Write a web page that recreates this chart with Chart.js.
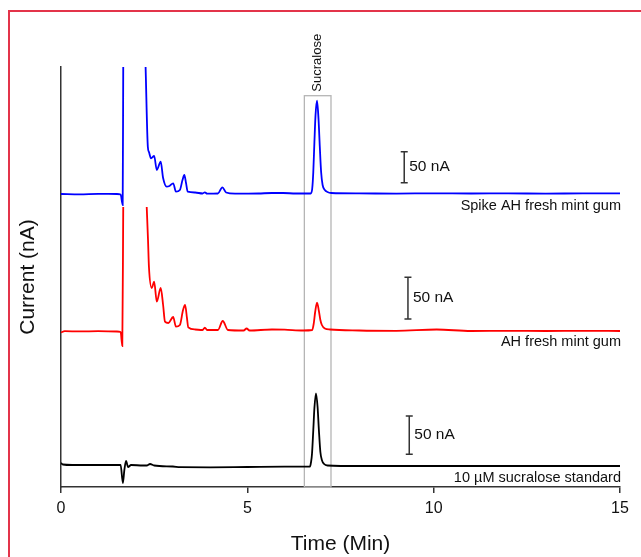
<!DOCTYPE html>
<html>
<head>
<meta charset="utf-8">
<script src="https://cdn.jsdelivr.net/npm/chart.js@4.4.0/dist/chart.umd.min.js"></script>
<style>
  body { margin: 0; background: #fff; }
  #wrap { position: relative; width: 641px; height: 557px; overflow: hidden; }
  #wrap canvas { position: absolute; left: 0; top: 0; }
  #frame { position: absolute; left: 8px; top: 10px; width: 700px; height: 600px;
           border: 2px solid #e3344a; box-sizing: border-box; pointer-events: none; }
</style>
</head>
<body>
<div id="wrap">
  <canvas id="chromChart" width="641" height="557"></canvas>
  <div id="frame"></div>
</div>
<script>
// traces are stacked, so currents below already include each trace's offset
// spiked gum sample (blue)
const spikeTime = [0, 0.5, 1.0, 1.5, 1.6, 1.655, 1.67, 1.9, 2.27, 2.33, 2.36, 2.415, 2.50, 2.57, 2.675, 2.74,
  2.835, 2.91, 3.01, 3.085, 3.19, 3.26, 3.31, 3.355, 3.40, 3.6, 3.8, 3.86, 3.92, 4.21, 4.33, 4.43, 4.67,
  5.3, 5.66, 5.96, 6.3, 6.70, 6.74, 6.77, 6.80, 6.83, 6.87, 6.91, 6.945, 6.98, 7.02, 7.08, 7.15, 7.25,
  8.0, 9.0, 10.0, 11.0, 12.0, 13.0, 14.0, 15.0];
const spikeCurrent = [293, 292.7, 293.2, 293, 292.5, 282, 420, null, 420, 340.3, 335, 328.7, 331, 317, 325.3, 309,
  300.3, 301, 303.7, 295.3, 297, 307, 312, 304, 295.3, 294.5, 293.5, 294.7, 293.3, 293.5, 299.7, 294.5, 293.3,
  293.5, 294, 294, 293.5, 293.5, 298, 315, 345, 372, 386.3, 368, 340, 315, 302, 297, 295, 294,
  293.6, 293.4, 293.7, 293.5, 293.6, 293.4, 293.6, 293.6];

// gum sample (red)
const gumTime = [0, 0.1, 0.5, 1.0, 1.5, 1.6, 1.645, 1.67, 1.9, 2.30, 2.335, 2.36, 2.435, 2.50, 2.57, 2.675,
  2.74, 2.79, 2.88, 3.01, 3.085, 3.19, 3.275, 3.33, 3.38, 3.415, 3.6, 3.8, 3.86, 3.92, 4.21, 4.34, 4.48,
  4.9, 4.98, 5.06, 5.66, 6.0, 6.5, 6.74, 6.78, 6.82, 6.87, 6.92, 6.96, 7.0, 7.08, 7.22, 8.0, 9.0, 10.08, 11.0,
  12.0, 13.0, 14.0, 15.0];
const gumCurrent = [154.5, 155.8, 155.6, 155.8, 155.5, 155, 141, 280, null, 280, 247, 220, 199, 205.3, 185.3, 199,
  182, 165.3, 164, 170, 160.3, 162, 177, 182, 169, 159.7, 157.5, 157, 159.3, 157, 157, 166, 157,
  156.5, 158.5, 156.5, 157.5, 157.3, 156.5, 157, 163, 175, 184.3, 176, 167, 162, 158.5, 157.5, 156.5, 156.2, 157.5, 156,
  156.2, 156, 156.2, 156];

// 10 uM standard (black)
const stdTime = [0, 0.05, 0.3, 1.0, 1.6, 1.66, 1.70, 1.745, 1.80, 1.88, 2.2, 2.3, 2.39, 2.5, 3.0, 3.2,
  4.0, 5.0, 6.0, 6.68, 6.71, 6.735, 6.77, 6.80, 6.842, 6.885, 6.92, 6.96, 7.0, 7.06, 7.15, 8.0, 10.0, 12.0, 15.0];
const stdCurrent = [24, 22.5, 22, 22, 22, 4, 17, 26, 20, 22, 21.5, 21.5, 23, 21.5, 20.5, 19.8,
  19.7, 20, 20.3, 20.5, 25, 33, 57, 79, 93.7, 80, 57, 35, 27, 23, 21.5, 21, 21, 21, 21];

const traceNames = ['Spike AH fresh mint gum', 'AH fresh mint gum', '10 \u00b5M sucralose standard'];
const traceColors = ['#0000ff', '#ff0000', '#000000'];
const xTicks = [0, 5, 10, 15];

// annotation bits: sucralose window and 50 nA scale bars
const sucraloseWindow = [6.53, 7.245];
const sucraloseTop = 391.3;
const barTime = [9.21, 9.31, 9.345];
const barLow = [304.3, 168, 32.7];
const barHigh = [335.3, 209.7, 71];
const nameLevel = [281.3, 145.3, 8.7];

function toPoints(times, values) {
  return times.map((t, i) => ({ x: t, y: values[i] }));
}

const FONT = '"Liberation Sans", Arial, sans-serif';

const overlay = {
  id: 'overlay',
  beforeDatasetsDraw(chart) {
    const { ctx, scales: { x, y } } = chart;
    const x0 = x.getPixelForValue(sucraloseWindow[0]);
    const x1 = x.getPixelForValue(sucraloseWindow[1]);
    const yt = y.getPixelForValue(sucraloseTop);
    const yb = y.getPixelForValue(0);
    ctx.save();
    ctx.strokeStyle = '#b5b5b5';
    ctx.lineWidth = 1.3;
    ctx.strokeRect(x0, yt, x1 - x0, yb - yt);
    ctx.restore();
  },
  afterDatasetsDraw(chart) {
    const { ctx, scales: { x, y } } = chart;
    ctx.save();
    // Sucralose label, rotated
    const cx = (x.getPixelForValue(sucraloseWindow[0]) + x.getPixelForValue(sucraloseWindow[1])) / 2;
    ctx.translate(cx, y.getPixelForValue(sucraloseTop) - 4);
    ctx.rotate(-Math.PI / 2);
    ctx.fillStyle = '#111';
    ctx.font = '13px ' + FONT;
    ctx.textAlign = 'left';
    ctx.textBaseline = 'middle';
    ctx.fillText('Sucralose', 0, 0);
    ctx.restore();

    ctx.save();
    ctx.strokeStyle = '#333';
    ctx.lineWidth = 1.5;
    ctx.fillStyle = '#111';
    ctx.font = '15.5px ' + FONT;
    ctx.textBaseline = 'middle';
    barTime.forEach((t, i) => {
      const bx = x.getPixelForValue(t);
      const lo = y.getPixelForValue(barLow[i]);
      const hi = y.getPixelForValue(barHigh[i]);
      ctx.beginPath();
      ctx.moveTo(bx, lo); ctx.lineTo(bx, hi);
      ctx.moveTo(bx - 3.5, lo); ctx.lineTo(bx + 3.5, lo);
      ctx.moveTo(bx - 3.5, hi); ctx.lineTo(bx + 3.5, hi);
      ctx.stroke();
      ctx.textAlign = 'left';
      ctx.fillText('50 nA', bx + 5, (lo + hi) / 2);
    });

    ctx.font = '14.5px ' + FONT;
    ctx.textAlign = 'right';
    traceNames.forEach((name, i) => {
      ctx.fillText(name, x.right + 1, y.getPixelForValue(nameLevel[i]));
    });
    ctx.restore();
  }
};

const ctx = document.getElementById('chromChart').getContext('2d');

new Chart(ctx, {
  type: 'line',
  data: {
    datasets: [
      { label: traceNames[0], data: toPoints(spikeTime, spikeCurrent), borderColor: traceColors[0] },
      { label: traceNames[1], data: toPoints(gumTime, gumCurrent), borderColor: traceColors[1] },
      { label: traceNames[2], data: toPoints(stdTime, stdCurrent), borderColor: traceColors[2] }
    ]
  },
  options: {
    responsive: false,
    animation: false,
    events: [],
    layout: { padding: { left: 10, right: 21, top: 67, bottom: 0 } },
    elements: {
      point: { radius: 0 },
      line: { borderWidth: 1.8, cubicInterpolationMode: 'monotone', fill: false }
    },
    plugins: {
      legend: { display: false },
      tooltip: { enabled: false }
    },
    scales: {
      x: {
        type: 'linear',
        min: 0,
        max: 15,
        afterBuildTicks: (axis) => { axis.ticks = xTicks.map(v => ({ value: v })); },
        grid: { drawOnChartArea: false, drawTicks: true, tickLength: 6, color: '#333', lineWidth: 1.5 },
        border: { display: true, color: '#333', width: 1.5 },
        ticks: { color: '#111', padding: 6, maxRotation: 0, font: { family: FONT, size: 16 } },
        title: {
          display: true, text: 'Time (Min)', color: '#111',
          font: { family: FONT, size: 21 }, padding: { top: 7.6, bottom: 0 }
        }
      },
      y: {
        min: 0,
        max: 420,
        grid: { display: false, drawTicks: false },
        border: { display: true, color: '#333', width: 1.5 },
        ticks: { display: false },
        title: {
          display: true, text: 'Current (nA)', color: '#111',
          font: { family: FONT, size: 21 }, padding: { top: 5.4, bottom: 20.4 }
        }
      }
    }
  },
  plugins: [overlay]
});
</script>
</body>
</html>
